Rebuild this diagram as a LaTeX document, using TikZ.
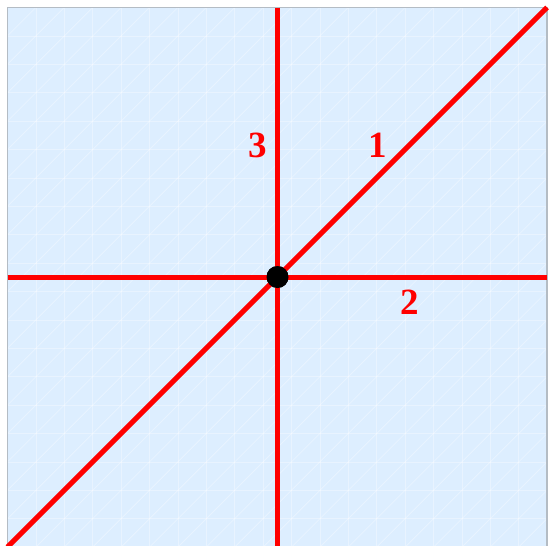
\documentclass[tikz,border=0pt]{standalone}
\usepackage{fontspec}
\setmainfont{Liberation Serif}
\usepackage{tikz}
\usetikzlibrary{positioning}

\definecolor{paleblue}{HTML}{DDEEFF}
\definecolor{framegray}{HTML}{B4BCC4}

\tikzset{
  faint/.style={white, opacity=0.35, line width=0.8pt},
  redline/.style={red, line width=5pt},
  axislabel/.style={red, font=\fontsize{37}{37}\selectfont\bfseries, inner sep=0pt}
}

\begin{document}
\begin{tikzpicture}[x=1pt,y=-1pt]
        \useasboundingbox (0,0) rectangle (549,546);
        \coordinate (nw) at (7.5,7.5);
        \coordinate (se) at (547,547);
        \fill [paleblue] (nw) rectangle (se);
        \begin{scope}
          \clip (nw) rectangle (se);
          \foreach \i in {1,...,18} { \draw [faint] ({7.5+\i*28.4},7.5) -- ({7.5+\i*28.4},547); }
          \foreach \i in {1,...,18} { \draw [faint] (7.5,{7.5+\i*28.4}) -- (547,{7.5+\i*28.4}); }
          \foreach \i in {1,...,37} { \draw [faint] (7.5,{7.5+\i*28.4}) -- ++(600,-600); }
        \end{scope}
        \draw [framegray, line width=1.5pt] (7.5,547) -- (nw) -- (547,7.5) -- (se);
        % the three lines through the point
        \node [circle, fill=black, inner sep=0pt, minimum size=22pt] (o) at (277.5,277) {};
        \coordinate (l) at (7.5,277);
        \coordinate (r) at (547,277);
        \coordinate (t) at (277.5,7.5);
        \coordinate (b) at (277.5,547);
        \coordinate (ll) at (7.5,547);
        \coordinate (ur) at (547,7.5);
        \draw [redline] (l) -- (o.center) -- (r);   % 2
        \draw [redline] (t) -- (o.center) -- (b);   % 3
        \draw [redline] (ll) -- (o.center) -- (ur); % 1
        \node [circle, fill=black, inner sep=0pt, minimum size=22pt] at (o) {};
        \node [axislabel] (one) at (378,145) {1};
        \node [axislabel] (two) at (410,302) {2};
        \node [axislabel] (three) at (258,145) {3};
\end{tikzpicture}
\end{document}
